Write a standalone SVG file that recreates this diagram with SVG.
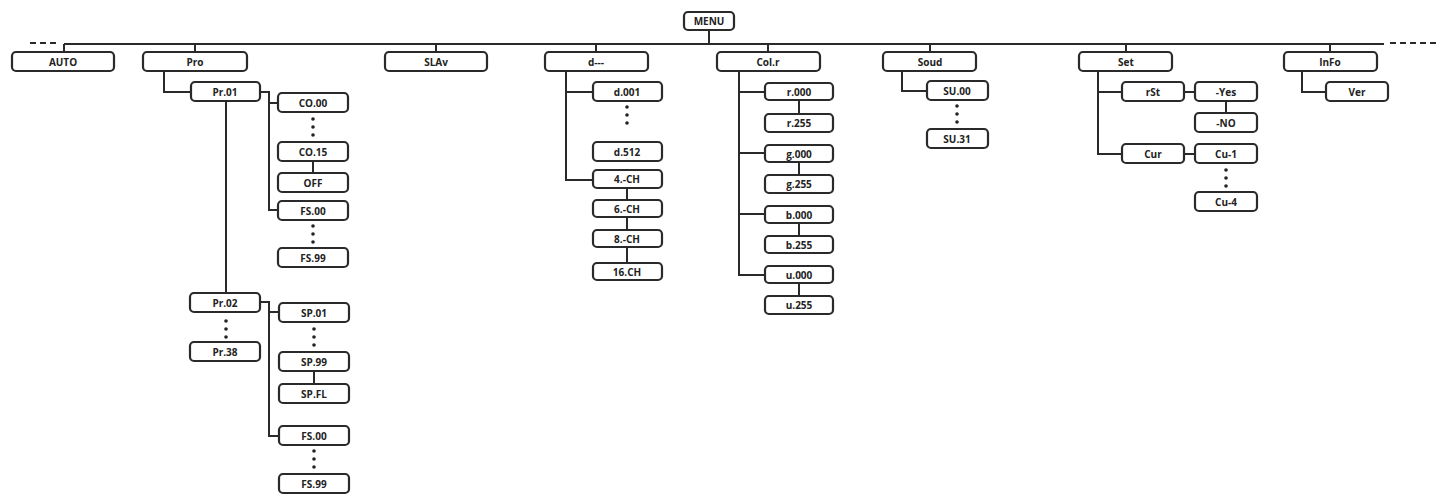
<svg xmlns="http://www.w3.org/2000/svg" width="1450" height="498" viewBox="0 0 1450 498">
<style>
rect{fill:#fff;stroke:#2a2a2a;stroke-width:2.2}
text{font-family:"Open Sans","Liberation Sans",sans-serif;font-size:10px;font-weight:bold;fill:#222;text-anchor:middle;dominant-baseline:central}
.c path,.c line{fill:none;stroke:#2a2a2a;stroke-width:2}
.d{stroke-dasharray:6 4;stroke:#555;stroke-width:1.5}
circle{fill:#222}
</style>
<rect x="0" y="0" width="1450" height="498" style="fill:#fff;stroke:none"/>
<g class="c">
<line x1="64" y1="44" x2="1384" y2="44"/>
<line class="d" x1="30" y1="43" x2="60" y2="43"/>
<line class="d" x1="1390" y1="43" x2="1440" y2="43"/>
<path d="M709 30V44M64 44V52M195 44V52M436 44V52M596 44V52M768 44V52M930 44V52M1126 44V52M1330 44V52"/>
<path d="M164 71V92H191M226 101V293M260 92H269V210H278M269 103H278M313 161V173M260 302H269V436H279M269 312H279M314 371V384"/>
<path d="M566 71V180H593M566 92H593M627 188V200M627 217V230M627 247V263"/>
<path d="M739 71V275H765M739 92H765M739 153H765M739 214H765M799 100V114M799 162V175M799 223V236M799 283V296"/>
<path d="M902 71V91H927"/>
<path d="M1098 71V154H1122M1098 92H1122M1184 92H1195M1184 154H1195M1226 101V113"/>
<path d="M1302 71V92H1326"/>
</g>
<g fill="#222">
<circle cx="226" cy="321" r="1.8"/><circle cx="226" cy="329" r="1.8"/><circle cx="226" cy="337" r="1.8"/>
<circle cx="313" cy="119" r="1.8"/><circle cx="313" cy="127" r="1.8"/><circle cx="313" cy="135" r="1.8"/>
<circle cx="313" cy="226" r="1.8"/><circle cx="313" cy="234" r="1.8"/><circle cx="313" cy="242" r="1.8"/>
<circle cx="314" cy="329" r="1.8"/><circle cx="314" cy="337" r="1.8"/><circle cx="314" cy="345" r="1.8"/>
<circle cx="314" cy="451" r="1.8"/><circle cx="314" cy="459" r="1.8"/><circle cx="314" cy="467" r="1.8"/>
<circle cx="627" cy="107" r="1.8"/><circle cx="627" cy="115" r="1.8"/><circle cx="627" cy="123" r="1.8"/>
<circle cx="957" cy="106" r="1.8"/><circle cx="957" cy="114" r="1.8"/><circle cx="957" cy="122" r="1.8"/>
<circle cx="1226" cy="170" r="1.8"/><circle cx="1226" cy="178" r="1.8"/><circle cx="1226" cy="186" r="1.8"/>
</g>
<g id="menu"><rect x="684" y="12" width="50" height="18" rx="4"/><text x="709" y="21">MENU</text></g>
<g id="auto"><rect x="12" y="52" width="102" height="19" rx="4"/><text x="63" y="62">AUTO</text></g>
<g id="pro"><rect x="143" y="52" width="104" height="19" rx="4"/><text x="195" y="62">Pro</text></g>
<g id="slav"><rect x="385" y="52" width="102" height="19" rx="4"/><text x="436" y="62">SLAv</text></g>
<g id="d"><rect x="545" y="52" width="103" height="19" rx="4"/><text x="596" y="62">d---</text></g>
<g id="colr"><rect x="717" y="52" width="103" height="19" rx="4"/><text x="768" y="62">Col.r</text></g>
<g id="soud"><rect x="883" y="52" width="93" height="19" rx="4"/><text x="930" y="62">Soud</text></g>
<g id="set"><rect x="1079" y="52" width="93" height="19" rx="4"/><text x="1126" y="62">Set</text></g>
<g id="info"><rect x="1284" y="52" width="93" height="19" rx="4"/><text x="1330" y="62">InFo</text></g>
<g id="pr01"><rect x="191" y="82" width="69" height="19" rx="4"/><text x="225" y="92">Pr.01</text></g>
<g id="co00"><rect x="278" y="93" width="70" height="19" rx="4"/><text x="313" y="103">CO.00</text></g>
<g id="co15"><rect x="278" y="142" width="70" height="19" rx="4"/><text x="313" y="152">CO.15</text></g>
<g id="off"><rect x="278" y="173" width="70" height="19" rx="4"/><text x="313" y="183">OFF</text></g>
<g id="fs00a"><rect x="278" y="201" width="70" height="19" rx="4"/><text x="313" y="211">FS.00</text></g>
<g id="fs99a"><rect x="278" y="248" width="70" height="19" rx="4"/><text x="313" y="258">FS.99</text></g>
<g id="pr02"><rect x="190" y="293" width="70" height="19" rx="4"/><text x="225" y="303">Pr.02</text></g>
<g id="pr38"><rect x="190" y="342" width="70" height="19" rx="4"/><text x="225" y="352">Pr.38</text></g>
<g id="sp01"><rect x="279" y="303" width="70" height="19" rx="4"/><text x="314" y="313">SP.01</text></g>
<g id="sp99"><rect x="279" y="352" width="70" height="19" rx="4"/><text x="314" y="362">SP.99</text></g>
<g id="spfl"><rect x="279" y="384" width="70" height="19" rx="4"/><text x="314" y="394">SP.FL</text></g>
<g id="fs00b"><rect x="279" y="426" width="70" height="19" rx="4"/><text x="314" y="436">FS.00</text></g>
<g id="fs99b"><rect x="279" y="474" width="70" height="19" rx="4"/><text x="314" y="484">FS.99</text></g>
<g id="d001"><rect x="593" y="82" width="69" height="19" rx="4"/><text x="627" y="92">d.001</text></g>
<g id="d512"><rect x="593" y="142" width="69" height="19" rx="4"/><text x="627" y="152">d.512</text></g>
<g id="ch4"><rect x="593" y="170" width="69" height="18" rx="4"/><text x="627" y="179">4.-CH</text></g>
<g id="ch6"><rect x="593" y="200" width="69" height="17" rx="4"/><text x="627" y="209">6.-CH</text></g>
<g id="ch8"><rect x="593" y="230" width="69" height="17" rx="4"/><text x="627" y="239">8.-CH</text></g>
<g id="ch16"><rect x="593" y="263" width="69" height="17" rx="4"/><text x="627" y="272">16.CH</text></g>
<g id="r000"><rect x="765" y="83" width="68" height="17" rx="4"/><text x="799" y="92">r.000</text></g>
<g id="r255"><rect x="765" y="114" width="68" height="18" rx="4"/><text x="799" y="123">r.255</text></g>
<g id="g000"><rect x="765" y="145" width="68" height="17" rx="4"/><text x="799" y="154">g.000</text></g>
<g id="g255"><rect x="765" y="175" width="68" height="18" rx="4"/><text x="799" y="184">g.255</text></g>
<g id="b000"><rect x="765" y="206" width="68" height="17" rx="4"/><text x="799" y="215">b.000</text></g>
<g id="b255"><rect x="765" y="236" width="68" height="17" rx="4"/><text x="799" y="245">b.255</text></g>
<g id="u000"><rect x="765" y="266" width="68" height="17" rx="4"/><text x="799" y="275">u.000</text></g>
<g id="u255"><rect x="765" y="296" width="68" height="18" rx="4"/><text x="799" y="305">u.255</text></g>
<g id="su00"><rect x="927" y="81" width="61" height="19" rx="4"/><text x="957" y="91">SU.00</text></g>
<g id="su31"><rect x="927" y="129" width="61" height="19" rx="4"/><text x="957" y="139">SU.31</text></g>
<g id="rst"><rect x="1122" y="82" width="62" height="19" rx="4"/><text x="1153" y="92">rSt</text></g>
<g id="yes"><rect x="1195" y="82" width="62" height="19" rx="4"/><text x="1226" y="92">-Yes</text></g>
<g id="no"><rect x="1195" y="113" width="62" height="19" rx="4"/><text x="1226" y="123">-NO</text></g>
<g id="cur"><rect x="1122" y="144" width="62" height="19" rx="4"/><text x="1153" y="154">Cur</text></g>
<g id="cu1"><rect x="1195" y="144" width="62" height="19" rx="4"/><text x="1226" y="154">Cu-1</text></g>
<g id="cu4"><rect x="1195" y="192" width="62" height="19" rx="4"/><text x="1226" y="202">Cu-4</text></g>
<g id="ver"><rect x="1326" y="82" width="62" height="19" rx="4"/><text x="1357" y="92">Ver</text></g>
</svg>
